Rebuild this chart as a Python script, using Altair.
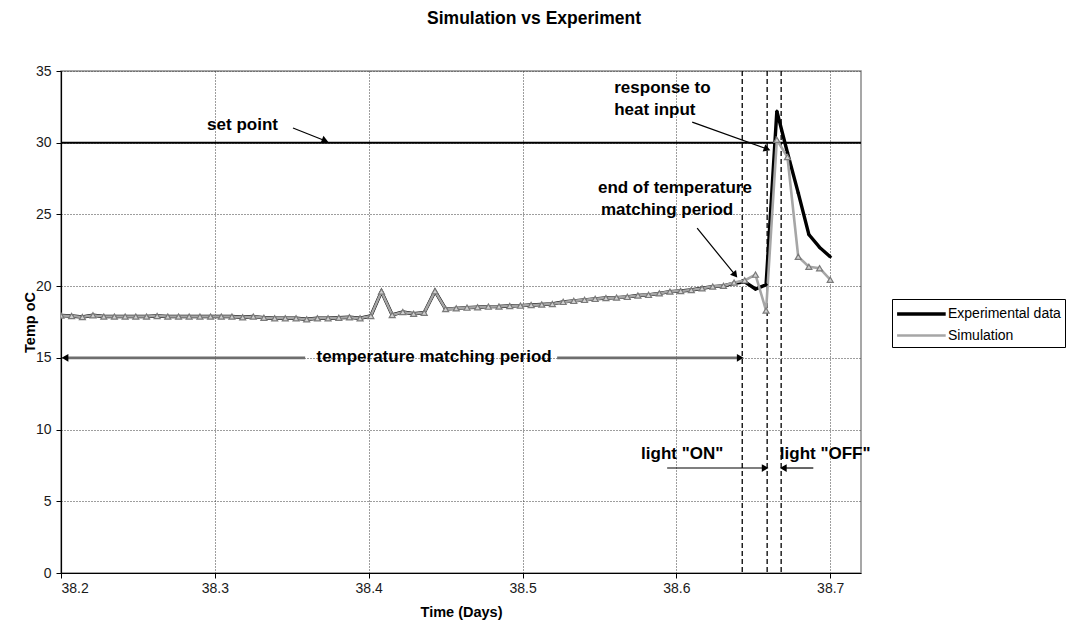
import math
import altair as alt
import pandas as pd

# ---------------- data ----------------
time_days = [
    38.2000, 38.2069, 38.2139, 38.2208, 38.2278, 38.2347, 38.2417, 38.2486, 38.2556, 38.2625,
    38.2694, 38.2764, 38.2833, 38.2903, 38.2972, 38.3042, 38.3111, 38.3181, 38.3250, 38.3319,
    38.3389, 38.3458, 38.3528, 38.3597, 38.3667, 38.3736, 38.3806, 38.3875, 38.3944, 38.4014,
    38.4083, 38.4153, 38.4222, 38.4292, 38.4361, 38.4431, 38.4500, 38.4569, 38.4639, 38.4708,
    38.4778, 38.4847, 38.4917, 38.4986, 38.5056, 38.5125, 38.5194, 38.5264, 38.5333, 38.5403,
    38.5472, 38.5542, 38.5611, 38.5681, 38.5750, 38.5819, 38.5889, 38.5958, 38.6028, 38.6097,
    38.6167, 38.6236, 38.6306, 38.6375, 38.6444, 38.6514, 38.6583, 38.6653, 38.6722, 38.6792,
    38.6861, 38.6931, 38.7000,
]
experimental = [
    17.95, 17.92, 17.85, 17.97, 17.88, 17.88, 17.88, 17.88, 17.88, 17.92,
    17.88, 17.88, 17.88, 17.88, 17.88, 17.88, 17.88, 17.83, 17.88, 17.80,
    17.76, 17.76, 17.76, 17.69, 17.76, 17.76, 17.80, 17.83, 17.76, 17.92,
    19.62, 17.99, 18.20, 18.08, 18.15, 19.65, 18.40, 18.45, 18.50, 18.53,
    18.57, 18.58, 18.62, 18.64, 18.69, 18.72, 18.76, 18.90, 18.97, 19.04,
    19.11, 19.17, 19.20, 19.25, 19.35, 19.39, 19.50, 19.62, 19.66, 19.73,
    19.85, 19.97, 20.02, 20.20, 20.30, 19.80, 20.10, 32.20, 29.30, 26.50,
    23.60, 22.70, 22.05,
]
simulation = [
    17.95, 17.92, 17.85, 17.97, 17.88, 17.88, 17.88, 17.88, 17.88, 17.92,
    17.88, 17.88, 17.88, 17.88, 17.88, 17.88, 17.88, 17.83, 17.88, 17.80,
    17.76, 17.76, 17.76, 17.69, 17.76, 17.76, 17.80, 17.83, 17.76, 17.92,
    19.62, 17.99, 18.20, 18.08, 18.15, 19.65, 18.40, 18.45, 18.50, 18.53,
    18.57, 18.58, 18.62, 18.64, 18.69, 18.72, 18.76, 18.90, 18.97, 19.04,
    19.11, 19.17, 19.20, 19.25, 19.35, 19.39, 19.50, 19.62, 19.66, 19.73,
    19.85, 19.97, 20.02, 20.25, 20.40, 20.80, 18.30, 30.20, 29.00, 22.05,
    21.35, 21.25, 20.45,
]
series_names = ["Experimental data", "Simulation"]

set_point = [30]
event_lines = [38.6428, 38.6590, 38.6681]

x_ticks = [38.2, 38.3, 38.4, 38.5, 38.6, 38.7]
y_ticks = [0, 5, 10, 15, 20, 25, 30, 35]

note_text = ["set point", "response to", "heat input", "end of temperature",
             "matching period", "temperature matching period", 'light "ON"', 'light "OFF"']
note_x = [38.318, 38.5596, 38.5596, 38.549, 38.551, 38.4425, 38.6038, 38.6967]
note_y = [31.23, 33.81, 32.28, 26.84, 25.31, 15.06, 8.30, 8.30]
note_align = ["center", "left", "left", "left", "left", "center", "center", "center"]

# arrows: tail (x0, y0) -> head (x1, y1)
arrow_x0 = [38.3508, 38.6103, 38.6135, 38.5940, 38.6890]
arrow_y0 = [31.03, 31.44, 24.05, 7.32, 7.32]
arrow_x1 = [38.3717, 38.6590, 38.6382, 38.6577, 38.6695]
arrow_y1 = [30.14, 29.56, 20.78, 7.32, 7.32]

period_x0 = [38.3587, 38.5225]
period_x1 = [38.2026, 38.6415]
period_y = [15.0, 15.0]

# ---------------- frames ----------------
W, H = 800, 502
X_DOM = [38.2, 38.72]
Y_DOM = [0, 35]
px_per_x = W / (X_DOM[1] - X_DOM[0])
px_per_y = H / (Y_DOM[1] - Y_DOM[0])


def head_angle(x0, y0, x1, y1):
    dx = (x1 - x0) * px_per_x
    dy = -(y1 - y0) * px_per_y
    return math.degrees(math.atan2(dy, dx)) % 360


n = len(time_days)
df = pd.DataFrame({
    "t": time_days * 2,
    "temp": experimental + simulation,
    "series": [series_names[0]] * n + [series_names[1]] * n,
})
df_exp = pd.DataFrame({"t": time_days, "temp": experimental})
df_sim = pd.DataFrame({"t": time_days, "temp": simulation})

notes = pd.DataFrame({"x": note_x, "y": note_y, "text": note_text, "align": note_align})
arrows = pd.DataFrame({"x0": arrow_x0, "y0": arrow_y0, "x1": arrow_x1, "y1": arrow_y1})
arrows["ang"] = [head_angle(a, b, c, d) for a, b, c, d in zip(arrow_x0, arrow_y0, arrow_x1, arrow_y1)]
period = pd.DataFrame({"x0": period_x0, "x1": period_x1, "y": period_y})
period["ang"] = [head_angle(a, y, b, y) for a, b, y in zip(period_x0, period_x1, period_y)]

FONT = "Liberation Sans"

xs = alt.Scale(domain=X_DOM, nice=False, zero=False)
ys = alt.Scale(domain=Y_DOM, nice=False)

x_axis = alt.Axis(values=x_ticks, format=".1f", title="Time (Days)", titleY=39,
                  titleBaseline="middle", grid=True)
y_axis = alt.Axis(values=y_ticks, title="Temp oC", titleX=-31, titleBaseline="middle", grid=True)

col_scale = alt.Scale(domain=series_names, range=["#000000", "#a6a6a6"])

# wide, low legend symbol: a horizontal stroke drawn to the right of the symbol slot
legend_symbol = "M-1.1,0H4.3"

lines = alt.Chart(df).mark_line(clip=True).encode(
    x=alt.X("t:Q", scale=xs, axis=x_axis),
    y=alt.Y("temp:Q", scale=ys, axis=y_axis),
    color=alt.Color("series:N", scale=col_scale, title=None,
                    legend=alt.Legend(orient="none", legendX=831, legendY=228,
                                      symbolType=legend_symbol, symbolSize=324,
                                      strokeColor="#000", padding=4,
                                      fillColor="#ffffff", labelFont=FONT, labelFontSize=14,
                                      labelColor="#000", rowPadding=4, labelOffset=30)),
    strokeWidth=alt.StrokeWidth("series:N", scale=alt.Scale(domain=series_names, range=[3.4, 2.6]),
                                legend=None),
    detail="series:N",
)

exp_pts = alt.Chart(df_exp).mark_point(clip=True, shape="diamond", filled=True, color="#000",
                                       size=16, opacity=1).encode(
    x=alt.X("t:Q", scale=xs), y=alt.Y("temp:Q", scale=ys)
)
sim_pts = alt.Chart(df_sim).mark_point(clip=True, shape="triangle-up", fill="#d0d0d0", stroke="#7a7a7a",
                                       strokeWidth=1.2, size=36, opacity=1, fillOpacity=1).encode(
    x=alt.X("t:Q", scale=xs), y=alt.Y("temp:Q", scale=ys)
)

setpt = alt.Chart(pd.DataFrame({"v": set_point})).mark_rule(color="#000", strokeWidth=2).encode(
    y=alt.Y("v:Q", scale=ys)
)

events = alt.Chart(pd.DataFrame({"x": event_lines})).mark_rule(
    color="#000", strokeWidth=1.3, strokeDash=[5, 3]
).encode(x=alt.X("x:Q", scale=xs))

text_style = dict(font=FONT, fontSize=17, fontWeight="bold", baseline="middle", color="#000")
notes_c = alt.Chart(notes).transform_filter(alt.datum.align == "center").mark_text(
    align="center", **text_style).encode(x=alt.X("x:Q", scale=xs), y=alt.Y("y:Q", scale=ys), text="text:N")
notes_l = alt.Chart(notes).transform_filter(alt.datum.align == "left").mark_text(
    align="left", **text_style).encode(x=alt.X("x:Q", scale=xs), y=alt.Y("y:Q", scale=ys), text="text:N")

arrow_shafts = alt.Chart(arrows).mark_rule(color="#000", strokeWidth=1.2).encode(
    x=alt.X("x0:Q", scale=xs), y=alt.Y("y0:Q", scale=ys), x2="x1:Q", y2="y1:Q"
)
arrow_heads = alt.Chart(arrows).mark_point(shape="triangle-right", filled=True, color="#000",
                                           size=60, opacity=1).encode(
    x=alt.X("x1:Q", scale=xs), y=alt.Y("y1:Q", scale=ys), angle=alt.Angle("ang:Q", scale=None)
)

period_shafts = alt.Chart(period).mark_rule(color="#6e6e6e", strokeWidth=2.6).encode(
    x=alt.X("x0:Q", scale=xs), x2="x1:Q", y=alt.Y("y:Q", scale=ys)
)
period_heads = alt.Chart(period).mark_point(shape="triangle-right", filled=True, color="#000",
                                            size=60, opacity=1).encode(
    x=alt.X("x1:Q", scale=xs), y=alt.Y("y:Q", scale=ys), angle=alt.Angle("ang:Q", scale=None)
)

chart = alt.layer(
    setpt, events, period_shafts, period_heads, lines, exp_pts, sim_pts,
    arrow_shafts, arrow_heads, notes_c, notes_l,
).properties(
    width=W, height=H,
    title=alt.TitleParams("Simulation vs Experiment", font=FONT, fontSize=17.5, fontWeight="bold",
                          color="#000", anchor="middle", dx=73, offset=23, baseline="alphabetic"),
    autosize=alt.AutoSizeParams(type="none"),
    padding={"left": 61, "top": 71, "right": 207, "bottom": 59},
).configure_view(
    stroke="#8a8a8a", strokeWidth=1.5
).configure_axis(
    domainColor="#000", domainWidth=1.2, tickColor="#000", tickSize=5,
    gridColor="#3c3c3c", gridDash=[1, 2], gridWidth=1,
    labelFont=FONT, labelFontSize=14, labelColor="#1a1a1a", labelPadding=3,
    titleFont=FONT, titleFontSize=14.5, titleFontWeight="bold", titleColor="#000",
).configure_axisY(
    labelPadding=5
).configure_legend(
    cornerRadius=0
)

chart.save("out.html", embed_options={"renderer": "svg", "actions": False})
